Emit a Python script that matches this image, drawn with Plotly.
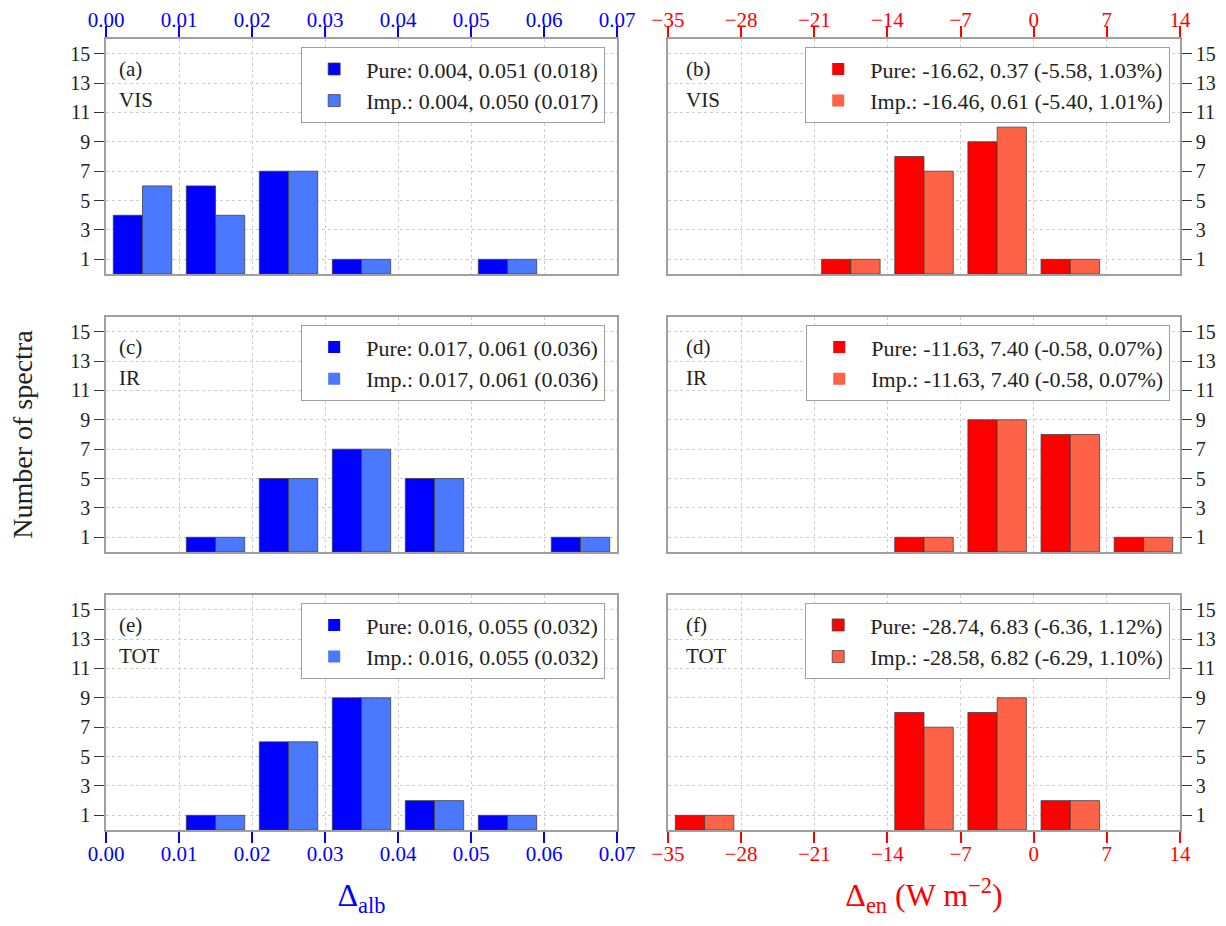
import plotly.graph_objects as go
from plotly.subplots import make_subplots

# ---------------- data ----------------
alb_bins = [0.005, 0.015, 0.025, 0.035, 0.045, 0.055, 0.065]
en_bins = [-31.5, -24.5, -17.5, -10.5, -3.5, 3.5, 10.5]

vis_alb_pure = [4, 6, 7, 1, 0, 1, 0]
vis_alb_imp = [6, 4, 7, 1, 0, 1, 0]
ir_alb_pure = [0, 1, 5, 7, 5, 0, 1]
ir_alb_imp = [0, 1, 5, 7, 5, 0, 1]
tot_alb_pure = [0, 1, 6, 9, 2, 1, 0]
tot_alb_imp = [0, 1, 6, 9, 2, 1, 0]

vis_en_pure = [0, 0, 1, 8, 9, 1, 0]
vis_en_imp = [0, 0, 1, 7, 10, 1, 0]
ir_en_pure = [0, 0, 0, 1, 9, 8, 1]
ir_en_imp = [0, 0, 0, 1, 9, 8, 1]
tot_en_pure = [1, 0, 0, 8, 8, 2, 0]
tot_en_imp = [1, 0, 0, 7, 9, 2, 0]

legend_pure = ["Pure: 0.004, 0.051 (0.018)", "Pure: -16.62, 0.37 (-5.58, 1.03%)",
               "Pure: 0.017, 0.061 (0.036)", "Pure: -11.63, 7.40 (-0.58, 0.07%)",
               "Pure: 0.016, 0.055 (0.032)", "Pure: -28.74, 6.83 (-6.36, 1.12%)"]
legend_imp = ["Imp.: 0.004, 0.050 (0.017)", "Imp.: -16.46, 0.61 (-5.40, 1.01%)",
              "Imp.: 0.017, 0.061 (0.036)", "Imp.: -11.63, 7.40 (-0.58, 0.07%)",
              "Imp.: 0.016, 0.055 (0.032)", "Imp.: -28.58, 6.82 (-6.29, 1.10%)"]
panel_tags = ["(a)", "(b)", "(c)", "(d)", "(e)", "(f)"]
band_names = ["VIS", "VIS", "IR", "IR", "TOT", "TOT"]

y_ticks = [1, 3, 5, 7, 9, 11, 13, 15]

# ---------------- style ----------------
FONT = "Liberation Serif"
BLUE, BLUE_L = "#0000FF", "#4A78FF"
RED, RED_L = "#FF0000", "#FF6347"
FRAME = "#a0a0a0"
GRID = "#cdcdcd"
TXT = "#222222"

fig = make_subplots(rows=3, cols=2)

pure_sets = [vis_alb_pure, vis_en_pure, ir_alb_pure, ir_en_pure, tot_alb_pure, tot_en_pure]
imp_sets = [vis_alb_imp, vis_en_imp, ir_alb_imp, ir_en_imp, tot_alb_imp, tot_en_imp]


def outline(vals):
    return [0 if v == 0 else 1 for v in vals]


for i in range(6):
    row, col = i // 2 + 1, i % 2 + 1
    xs = alb_bins if col == 1 else en_bins
    c1, c2 = (BLUE, BLUE_L) if col == 1 else (RED, RED_L)
    lg = "legend" if i == 0 else f"legend{i+1}"
    fig.add_trace(go.Bar(x=xs, y=pure_sets[i], name=legend_pure[i], marker_color=c1,
                         marker_line=dict(color="rgba(60,60,60,0.75)", width=outline(pure_sets[i])),
                         legend=lg, legendgroup=f"p{i}"), row=row, col=col)
    fig.add_trace(go.Bar(x=xs, y=imp_sets[i], name=legend_imp[i], marker_color=c2,
                         marker_line=dict(color="rgba(60,60,60,0.75)", width=outline(imp_sets[i])),
                         legend=lg, legendgroup=f"m{i}"), row=row, col=col)

# domains
xdom_l = [0.0, 0.4758]
xdom_r = [0.5233, 1.0]
ydoms = [[0.7029, 1.0], [0.3515, 0.6485], [0.0, 0.2971]]

layout = {}
for i in range(6):
    row, col = i // 2, i % 2
    n = "" if i == 0 else str(i + 1)
    color = BLUE if col == 0 else RED
    xa = dict(domain=xdom_l if col == 0 else xdom_r,
              range=[0, 0.07] if col == 0 else [-35, 14],
              dtick=0.01 if col == 0 else 7, tick0=0,
              tickformat=".2f" if col == 0 else "d",
              showgrid=True, gridcolor=GRID, griddash="dot", gridwidth=1,
              showline=True, linecolor=FRAME, linewidth=1.5, mirror=True,
              zeroline=False, tickcolor=color, ticklen=11, tickwidth=1.5,
              automargin=False,
              tickfont=dict(family=FONT, size=21, color=color))
    if row == 0:
        xa.update(side="top", ticks="outside", showticklabels=True, ticklabelstandoff=-9)
    elif row == 1:
        xa.update(ticks="", showticklabels=False)
    else:
        xa.update(side="bottom", ticks="outside", showticklabels=True, ticklabelstandoff=-7)
        if col == 0:
            xa["title"] = dict(text="Δ<sub>alb</sub>", font=dict(family=FONT, size=32, color=BLUE), standoff=22)
        else:
            xa["title"] = dict(text="Δ<sub>en</sub> (W m<sup>−2</sup>)", font=dict(family=FONT, size=32, color=RED), standoff=22)
    ya = dict(domain=ydoms[row], range=[0, 16], tickvals=y_ticks,
              showgrid=True, gridcolor=GRID, griddash="dot", gridwidth=1,
              showline=True, linecolor=FRAME, linewidth=1.5, mirror=True,
              zeroline=False, ticks="outside", ticklen=10, tickwidth=1.2, tickcolor="#333",
              side="left" if col == 0 else "right", automargin=False,
              tickfont=dict(family=FONT, size=20, color=TXT))
    layout["xaxis" + n] = xa
    layout["yaxis" + n] = ya

    # legend
    lgname = "legend" if i == 0 else f"legend{i+1}"
    ytop = ydoms[row][1] - 0.0101
    layout[lgname] = dict(x=0.4646 if col == 0 else 0.9907, y=ytop,
                          xanchor="right", yanchor="top",
                          bgcolor="white", bordercolor="#a0a0a0", borderwidth=1.2,
                          font=dict(family=FONT, size=22, color=TXT),
                          tracegroupgap=0, itemwidth=54)

fig.update_layout(**layout)

# panel tags
for i in range(6):
    row, col = i // 2, i % 2
    n = "" if i == 0 else str(i + 1)
    xref = f"x{n} domain"
    yref = f"y{n} domain"
    xpos = 0.021 if col == 0 else 0.031
    fig.add_annotation(x=xpos, y=0.872, xref=xref, yref=yref,
                       text=panel_tags[i], showarrow=False, xanchor="left", yanchor="middle",
                       font=dict(family=FONT, size=21, color=TXT))
    fig.add_annotation(x=xpos, y=0.74, xref=xref, yref=yref,
                       text=band_names[i], showarrow=False, xanchor="left", yanchor="middle",
                       font=dict(family=FONT, size=21, color=TXT))

fig.add_annotation(x=-0.078, y=0.5, xref="paper", yref="paper", text="Number of spectra",
                   textangle=-90, showarrow=False, xanchor="center", yanchor="middle",
                   font=dict(family=FONT, size=28, color=TXT))

# page body has an 8 px margin: size the figure so that the plot lands where the reference has it
fig.update_layout(width=1210, height=910, barmode="group", bargap=0.2, bargroupgap=0,
                  plot_bgcolor="white", paper_bgcolor="white",
                  margin=dict(l=98, r=38, t=31, b=88), showlegend=True)

fig.write_html("out.html")
